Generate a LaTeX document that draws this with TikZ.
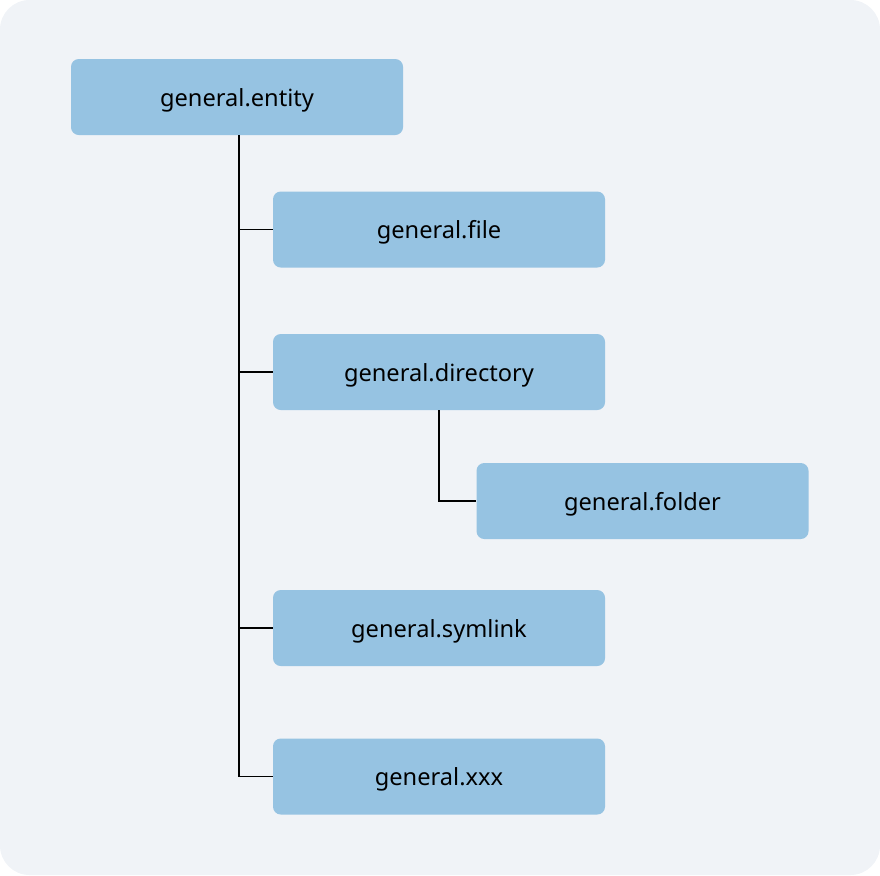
\documentclass[tikz,border=0pt]{standalone}
\usepackage{fontspec}
\setmainfont{Noto Sans}
\usetikzlibrary{positioning}
\definecolor{panelBack}{HTML}{F0F3F7}
\definecolor{typeBlue}{HTML}{96C3E2}

\tikzset{
  typebox/.style={fill=typeBlue, rounded corners=5.5pt, minimum width=332*0.025cm,
    minimum height=76*0.025cm, inner sep=0pt, text height=13pt, text depth=0pt,
    font=\fontsize{16.8}{20}\selectfont},
  branch/.style={line width=1.4pt, black}
}

\begin{document}
\begin{tikzpicture}[x=0.025cm, y=-0.025cm]
        \fill[panelBack, rounded corners=21pt] (0,0) rectangle (880,875);
        \useasboundingbox (0,0) rectangle (880,875);
        % root and its children
        \node[typebox] (entity) at (237,97) {general.entity};
        \foreach \name/\txt/\y in {file/general.file/229.5, directory/general.directory/372,
          symlink/general.symlink/628, xxx/general.xxx/776.5} {
          \node[typebox] (\name) at (439,\y) {\txt};
        }
        \node[typebox] (folder) at (642.5,501) {general.folder};
        % tree lines
        \draw[branch] (239,0 |- entity.south) -- (239,0 |- xxx.west) -- (xxx.west);
        \foreach \name in {file,directory,symlink} {
          \draw[branch] (239,0 |- \name.west) -- (\name.west);
        }
        \draw[branch] (directory.south) |- (folder.west);
      \end{tikzpicture}
\end{document}
